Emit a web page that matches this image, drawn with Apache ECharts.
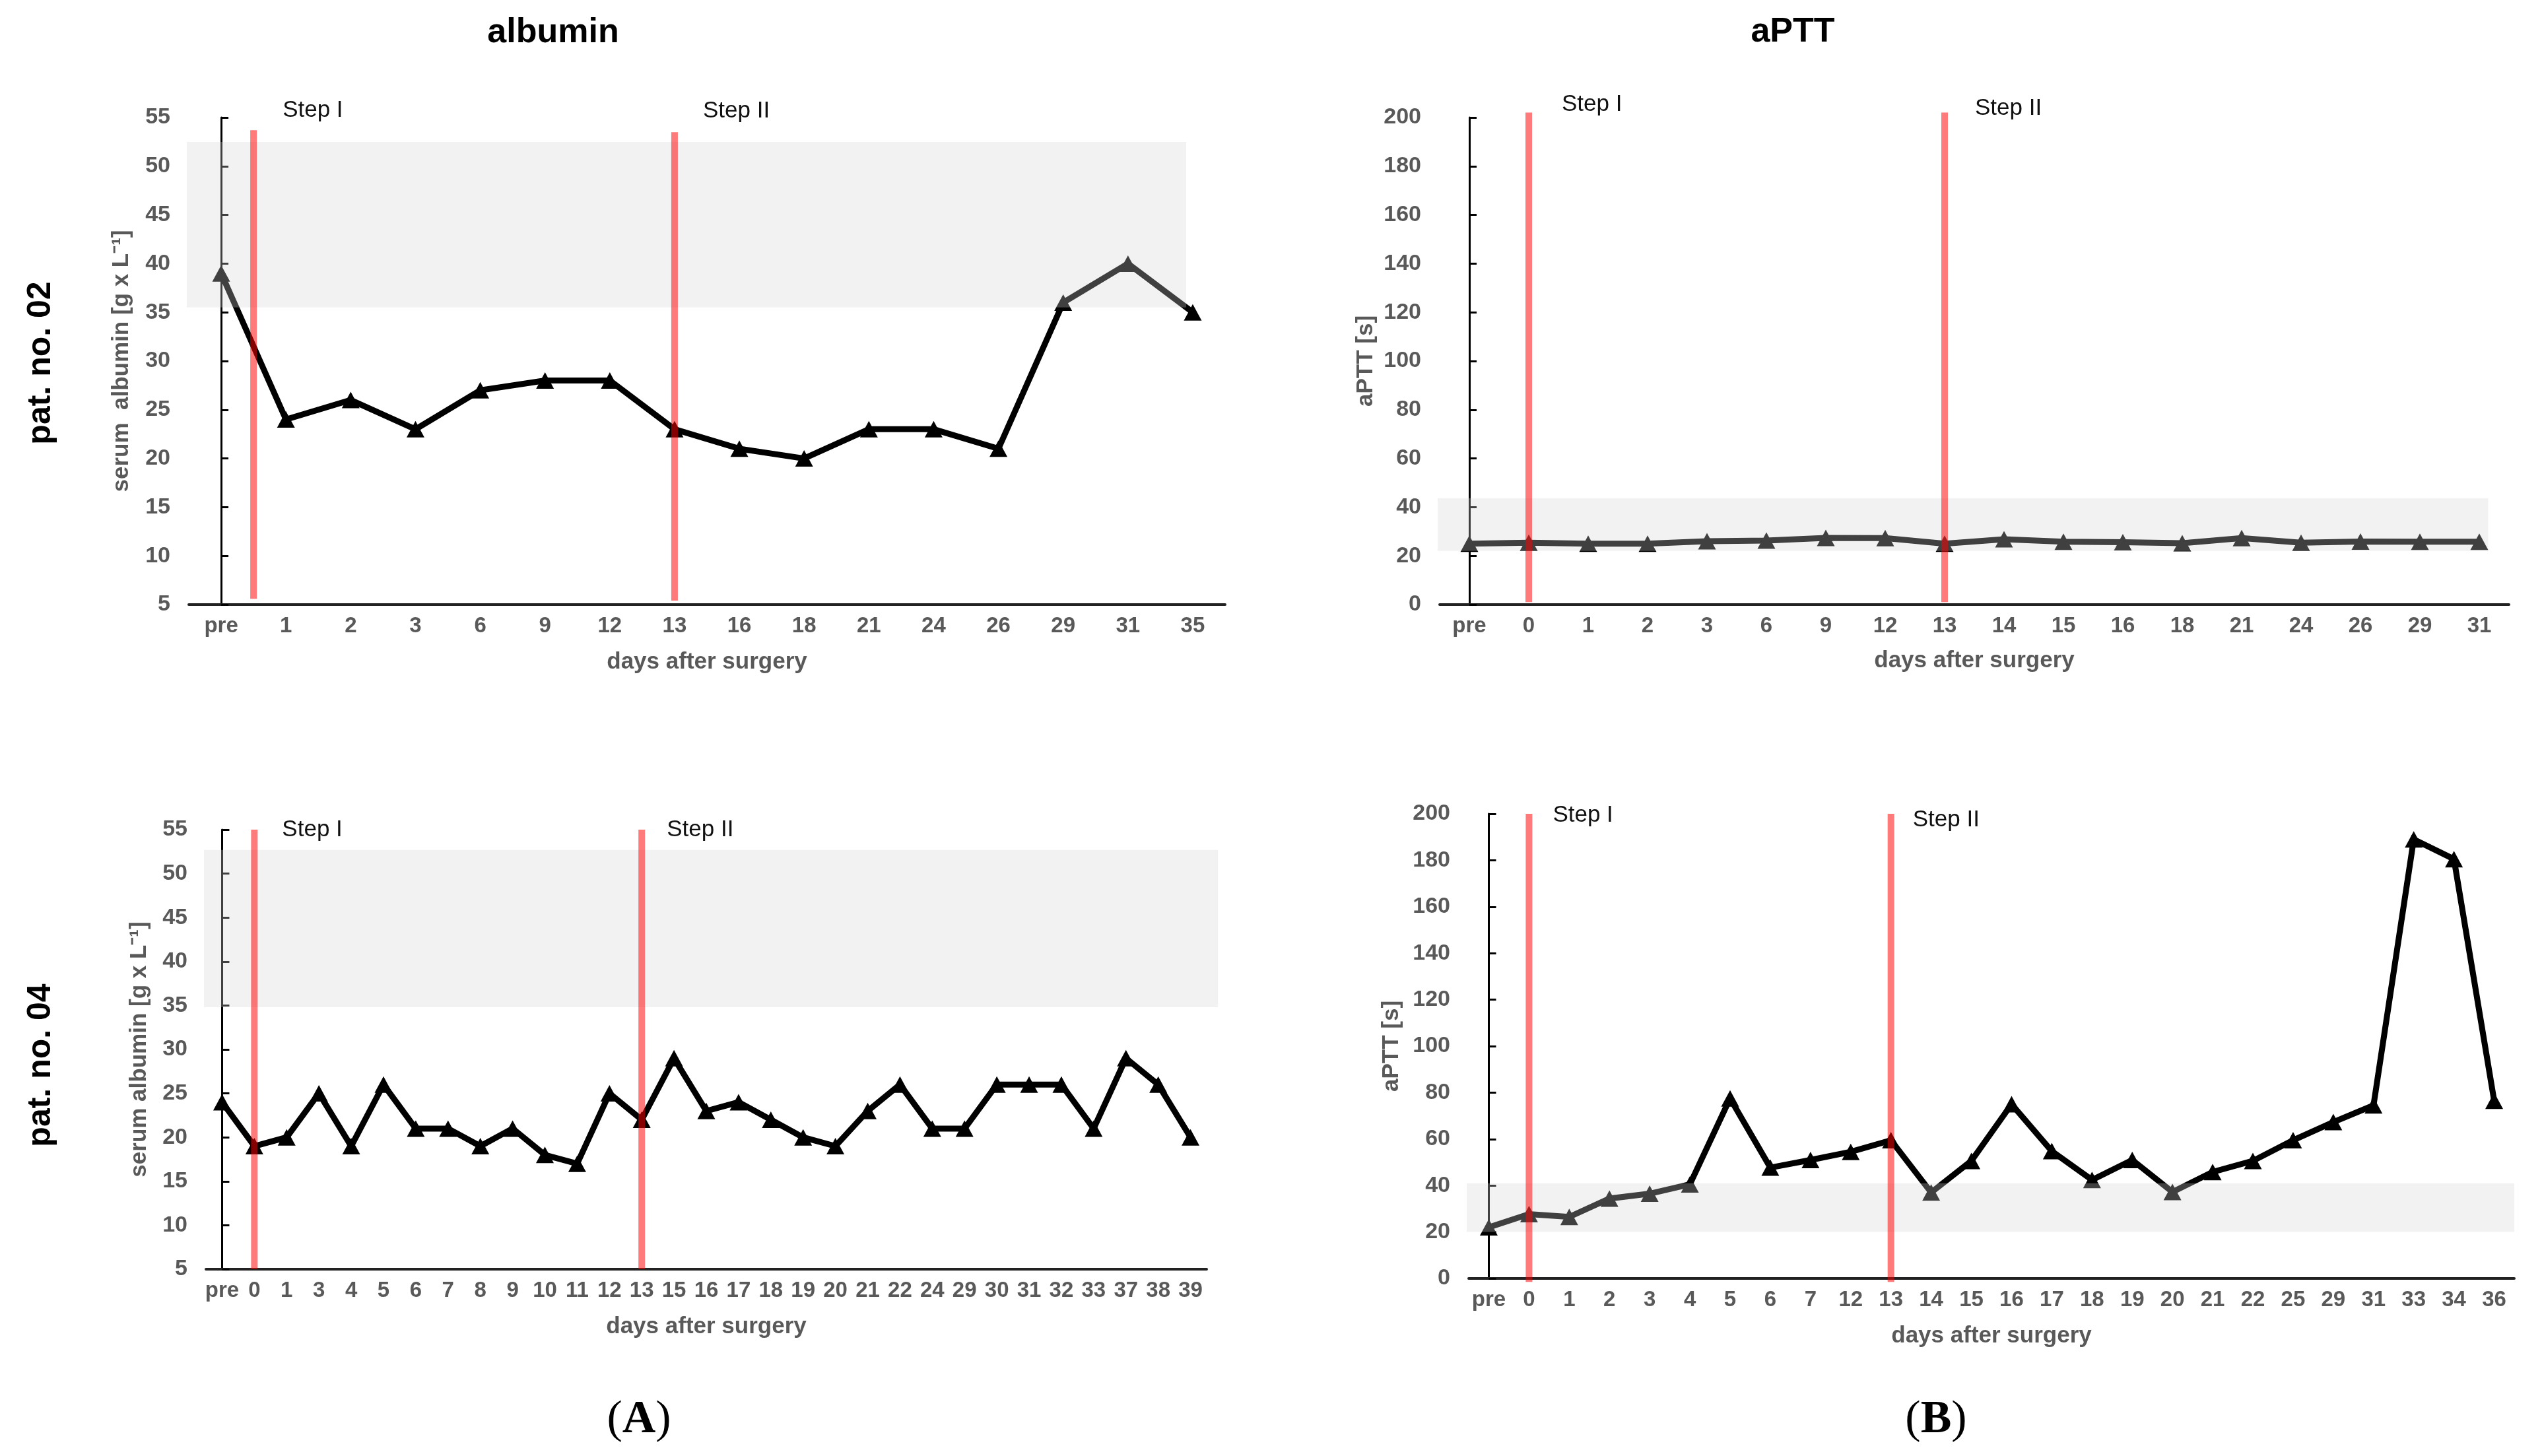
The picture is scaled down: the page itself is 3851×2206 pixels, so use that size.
<!DOCTYPE html>
<html>
<head>
<meta charset="utf-8">
<script src="https://cdn.jsdelivr.net/npm/echarts@6/dist/echarts.min.js"></script>
<style>
html,body{margin:0;padding:0;background:#fff;}
#chart{width:3851px;height:2206px;}
</style>
</head>
<body>
<div id="chart"></div>
<script>
// ---------- data ----------
const catsA1 = ['pre','1','2','3','6','9','12','13','16','18','21','24','26','29','31','35'];
const valsA1 = [39,24,26,23,27,28,28,23,21,20,23,23,21,36,40,35];

const catsB1 = ['pre','0','1','2','3','6','9','12','13','14','15','16','18','21','24','26','29','31'];
const valsB1 = [25,25.4,25,25,26,26.3,27.4,27.3,25,26.8,25.8,25.6,25.2,27.3,25.4,25.9,25.8,25.8];

const catsA2 = ['pre','0','1','3','4','5','6','7','8','9','10','11','12','13','15','16','17','18','19','20','21','22','24','29','30','31','32','33','37','38','39'];
const valsA2 = [24,19,20,25,19,26,21,21,19,21,18,17,25,22,29,23,24,22,20,19,23,26,21,21,26,26,26,21,29,26,20];

const catsB2 = ['pre','0','1','2','3','4','5','6','7','12','13','14','15','16','17','18','19','20','21','22','25','29','31','33','34','36'];
const valsB2 = [22,27.7,26.5,34.4,36.5,40.5,77.5,47.7,51,54.5,59.5,37,50.6,75,54.8,42.4,51,37.2,45.8,50.6,59.5,67.3,74.5,189,180.5,76.5];

// reference (normal) ranges: [x from, x to (category index units), y low, y high]
const bandA1 = [-0.5, 14.9, 35.5, 52.5];
const bandB1 = [-0.5, 17.15, 22, 43.7];
const bandA2 = [-0.5, 30.85, 34.8, 52.7];
const bandB2 = [-0.5, 25.5, 20, 41];

// treatment steps: [category index position, y bottom, y top]
const stepsA1 = [[0.5, 5.6, 53.7], [7, 5.4, 53.5]];
const stepsB1 = [[1, 1, 202], [8, 1, 202]];
const stepsA2 = [[1, 5, 55], [13, 5, 55]];
const stepsB2 = [[1, -1.5, 200], [10, -1.5, 200]];
const stepNames = ['Step I', 'Step II'];

const yTicksAlb = [5, 55, 5];   // min, max, interval
const yTicksAptt = [0, 200, 20];

// ---------- styling / layout ----------
const SANS = "'Liberation Sans', Arial, Helvetica, sans-serif";
const GREY = '#595959';

const panels = [
  {cats: catsA1, vals: valsA1, band: bandA1, steps: stepsA1, yt: yTicksAlb,
   yName: 'serum  albumin [g x L\u207B\u00B9]',
   grid: {left: 286, top: 178, width: 1570, height: 738},
   yNameGap: 84, xNameGap: 70, lab: [[44, -30], [43, -32]]},
  {cats: catsB1, vals: valsB1, band: bandB1, steps: stepsB1, yt: yTicksAptt,
   yName: 'aPTT [s]',
   grid: {left: 2181, top: 178, width: 1620, height: 738},
   yNameGap: 94, xNameGap: 68, lab: [[50, -12], [46, -6]]},
  {cats: catsA2, vals: valsA2, band: bandA2, steps: stepsA2, yt: yTicksAlb,
   yName: 'serum albumin [g x L\u207B\u00B9]',
   grid: {left: 312, top: 1257, width: 1516, height: 666},
   yNameGap: 83, xNameGap: 70, lab: [[42, 0], [38, 0]]},
  {cats: catsB2, vals: valsB2, band: bandB2, steps: stepsB2, yt: yTicksAptt,
   yName: 'aPTT [s]',
   grid: {left: 2225, top: 1233, width: 1584, height: 704},
   yNameGap: 99, xNameGap: 70, lab: [[36, 2], [33, 9]]}
];

const grids = [], xAxes = [], yAxes = [], series = [];

panels.forEach((p, i) => {
  grids.push(Object.assign({containLabel: false}, p.grid));
  // visible category axis
  xAxes.push({
    type: 'category', gridIndex: i, data: p.cats, boundaryGap: true,
    axisLine: {lineStyle: {color: '#222', width: 4}},
    axisTick: {show: false},
    axisLabel: {color: GREY, fontFamily: SANS, fontWeight: 'bold', fontSize: 33, margin: 16, interval: 0},
    name: 'days after surgery', nameLocation: 'middle', nameGap: p.xNameGap,
    nameTextStyle: {color: GREY, fontFamily: SANS, fontWeight: 'bold', fontSize: 35},
    splitLine: {show: false}
  });
  // hidden linear twin of the category axis (band/step placement between categories)
  xAxes.push({
    type: 'value', gridIndex: i, min: -0.5, max: p.cats.length - 0.5, show: false,
    splitLine: {show: false}
  });
  yAxes.push({
    type: 'value', gridIndex: i, min: p.yt[0], max: p.yt[1], interval: p.yt[2],
    axisLine: {show: true, lineStyle: {color: '#000', width: 3}},
    axisTick: {show: true, inside: true, length: 11, lineStyle: {color: '#000', width: 3}},
    axisLabel: {color: GREY, fontFamily: SANS, fontWeight: 'bold', fontSize: 34, margin: 28},
    splitLine: {show: false},
    name: p.yName, nameLocation: 'middle', nameGap: p.yNameGap, nameRotate: 90,
    nameTextStyle: {color: GREY, fontFamily: SANS, fontSize: 35, fontWeight: 'bold'}
  });

  series.push({
    type: 'line', xAxisIndex: 2 * i, yAxisIndex: i, data: p.vals,
    symbol: 'triangle', symbolSize: [27, 25], showAllSymbol: true,
    lineStyle: {color: '#000', width: 9, join: 'miter'},
    itemStyle: {color: '#000'},
    z: 2, animation: false
  });

  series.push({
    type: 'custom', xAxisIndex: 2 * i + 1, yAxisIndex: i, z: 3, clip: false,
    silent: true, animation: false,
    data: [p.band],
    encode: {x: [0, 1], y: [2, 3]},
    renderItem: function (params, api) {
      const a = api.coord([api.value(0), api.value(3)]);
      const b = api.coord([api.value(1), api.value(2)]);
      return {
        type: 'rect',
        shape: {x: a[0] - 3, y: a[1], width: b[0] - a[0] + 3, height: b[1] - a[1]},
        style: {fill: 'rgba(212,212,212,0.30)'}
      };
    }
  });

  series.push({
    type: 'custom', xAxisIndex: 2 * i + 1, yAxisIndex: i, z: 4, clip: false,
    silent: true, animation: false,
    data: p.steps,
    encode: {x: 0, y: [1, 2]},
    renderItem: function (params, api) {
      const bot = api.coord([api.value(0), api.value(1)]);
      const top = api.coord([api.value(0), api.value(2)]);
      const off = p.lab[params.dataIndex];
      return {
        type: 'group',
        children: [
          {type: 'line', shape: {x1: bot[0], y1: bot[1], x2: top[0], y2: top[1]},
           style: {stroke: 'rgba(255,0,0,0.52)', lineWidth: 10}},
          {type: 'text', x: top[0] + off[0], y: top[1] + off[1],
           style: {text: stepNames[params.dataIndex], font: '35px ' + SANS, fill: '#111',
                   textAlign: 'left', textVerticalAlign: 'middle'}}
        ]
      };
    }
  });
});

const chart = echarts.init(document.getElementById('chart'), null, {renderer: 'canvas'});
chart.setOption({
  backgroundColor: '#fff',
  animation: false,
  grid: grids,
  xAxis: xAxes,
  yAxis: yAxes,
  series: series,
  graphic: [
    {type: 'text', x: 838, y: 50, style: {text: 'albumin', font: 'bold 52px ' + SANS, fill: '#000', textAlign: 'center', textVerticalAlign: 'middle'}},
    {type: 'text', x: 2716, y: 49, style: {text: 'aPTT', font: 'bold 52px ' + SANS, fill: '#000', textAlign: 'center', textVerticalAlign: 'middle'}},
    {type: 'text', x: 62, y: 550, rotation: Math.PI / 2, style: {text: 'pat. no. 02', font: 'bold 50px ' + SANS, fill: '#000', textAlign: 'center', textVerticalAlign: 'middle'}},
    {type: 'text', x: 62, y: 1614, rotation: Math.PI / 2, style: {text: 'pat. no. 04', font: 'bold 50px ' + SANS, fill: '#000', textAlign: 'center', textVerticalAlign: 'middle'}},
    {type: 'text', x: 968, y: 2152, style: {text: '{p|(}{b|A}{p|)}', textAlign: 'center', textVerticalAlign: 'middle',
      rich: {p: {font: '70px "Liberation Serif", "Times New Roman", serif', fill: '#000'}, b: {font: 'bold 70px "Liberation Serif", "Times New Roman", serif', fill: '#000'}}}},
    {type: 'text', x: 2933, y: 2152, style: {text: '{p|(}{b|B}{p|)}', textAlign: 'center', textVerticalAlign: 'middle',
      rich: {p: {font: '70px "Liberation Serif", "Times New Roman", serif', fill: '#000'}, b: {font: 'bold 70px "Liberation Serif", "Times New Roman", serif', fill: '#000'}}}}
  ]
});
</script>
</body>
</html>
